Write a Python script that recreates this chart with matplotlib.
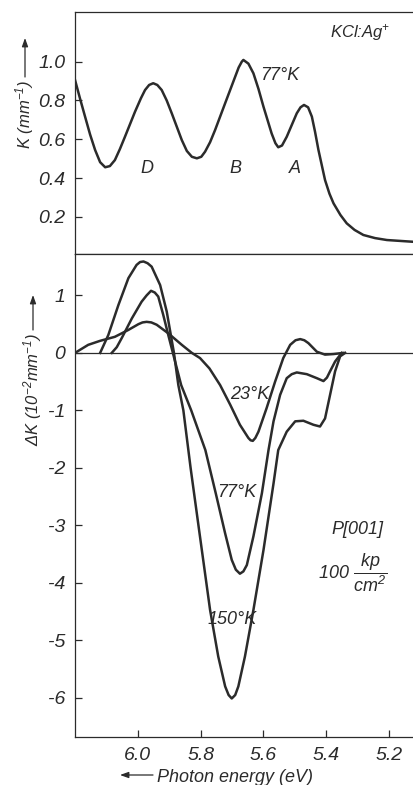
import numpy as np
import matplotlib.pyplot as plt

plt.rcParams['font.family'] = ['Liberation Sans', 'DejaVu Sans']
plt.rcParams['font.style'] = 'italic'
plt.rcParams['axes.unicode_minus'] = False
plt.rcParams['mathtext.fontset'] = 'custom'
plt.rcParams['mathtext.rm'] = 'Liberation Sans:italic'
plt.rcParams['mathtext.it'] = 'Liberation Sans:italic'

# absorption K at 77 K (top panel)
e_abs = [6.200, 6.184, 6.168, 6.152, 6.136, 6.120, 6.104, 6.089, 6.073, 6.057,
         6.041, 6.009, 5.990, 5.977, 5.964, 5.951, 5.938, 5.924, 5.908, 5.892,
         5.860, 5.844, 5.828, 5.812, 5.798, 5.786, 5.770, 5.754, 5.722, 5.690,
         5.679, 5.669, 5.664, 5.648, 5.632, 5.616, 5.600, 5.574, 5.562, 5.553,
         5.541, 5.526, 5.494, 5.482, 5.471, 5.458, 5.446, 5.436, 5.425, 5.404,
         5.390, 5.377, 5.355, 5.335, 5.310, 5.282, 5.245, 5.207, 5.124]
k_abs = [0.906, 0.810, 0.717, 0.625, 0.545, 0.482, 0.456, 0.462, 0.493, 0.550,
         0.613, 0.742, 0.812, 0.854, 0.880, 0.889, 0.880, 0.854, 0.800, 0.734,
         0.596, 0.540, 0.510, 0.502, 0.510, 0.536, 0.585, 0.648, 0.786, 0.923,
         0.970, 1.000, 1.009, 0.990, 0.940, 0.860, 0.768, 0.630, 0.580, 0.559,
         0.568, 0.613, 0.734, 0.765, 0.777, 0.765, 0.717, 0.640, 0.545, 0.390,
         0.320, 0.270, 0.210, 0.167, 0.133, 0.107, 0.091, 0.081, 0.072]

# stress induced change dK (10^-2 mm^-1)
e_23 = [6.200, 6.158, 6.120, 6.073, 6.030, 5.998, 5.985, 5.972, 5.957, 5.940,
        5.903, 5.860, 5.828, 5.802, 5.772, 5.738, 5.706, 5.675, 5.648, 5.641,
        5.634, 5.626, 5.616, 5.590, 5.563, 5.537, 5.515, 5.498, 5.483, 5.470,
        5.457, 5.430, 5.404, 5.377, 5.346]
dk_23 = [0.00, 0.14, 0.21, 0.28, 0.40, 0.50, 0.53, 0.54, 0.53, 0.49,
         0.34, 0.14, 0.00, -0.09, -0.27, -0.56, -0.90, -1.25, -1.48, -1.52,
         -1.53, -1.48, -1.37, -0.96, -0.50, -0.09, 0.14, 0.22, 0.24, 0.22,
         0.17, 0.02, -0.03, -0.02, 0.00]

e_77 = [6.083, 6.067, 6.051, 6.019, 5.988, 5.972, 5.958, 5.946, 5.935, 5.919,
        5.903, 5.887, 5.862, 5.830, 5.785, 5.752, 5.722, 5.701, 5.688,
        5.675, 5.664, 5.653, 5.632, 5.605, 5.584, 5.568, 5.547, 5.526, 5.510,
        5.494, 5.462, 5.430, 5.409, 5.398, 5.388, 5.372, 5.351]
dk_77 = [0.00, 0.10, 0.26, 0.60, 0.89, 1.00, 1.08, 1.05, 0.98, 0.66,
         0.31, -0.03, -0.56, -1.00, -1.69, -2.44, -3.14, -3.60, -3.77,
         -3.84, -3.80, -3.69, -3.19, -2.44, -1.69, -1.19, -0.73, -0.44, -0.37,
         -0.34, -0.37, -0.44, -0.49, -0.43, -0.32, -0.15, 0.00]

e_150 = [6.120, 6.094, 6.062, 6.030, 6.004, 5.993, 5.982, 5.969, 5.956, 5.929,
         5.908, 5.885, 5.871, 5.855, 5.832, 5.807, 5.770, 5.744, 5.722, 5.711,
         5.701, 5.690, 5.680, 5.659, 5.632, 5.600, 5.568, 5.553, 5.526, 5.499,
         5.473, 5.441, 5.420, 5.404, 5.388, 5.372, 5.356, 5.340]
dk_150 = [0.00, 0.31, 0.83, 1.30, 1.53, 1.58, 1.59, 1.56, 1.50, 1.18,
          0.72, 0.00, -0.56, -1.00, -2.00, -3.00, -4.47, -5.28, -5.80, -5.95,
          -6.01, -5.95, -5.80, -5.28, -4.47, -3.43, -2.27, -1.69, -1.37, -1.19,
          -1.18, -1.25, -1.28, -1.14, -0.73, -0.32, -0.06, 0.00]

k_ticks = [0.2, 0.4, 0.6, 0.8, 1.0]
dk_ticks = [1, 0, -1, -2, -3, -4, -5, -6]
e_ticks = [6.0, 5.8, 5.6, 5.4, 5.2]

ink = '#2b2b2b'
W, H = 413, 785
fig = plt.figure(figsize=(W / 100, H / 100), dpi=100)

ax1 = fig.add_axes([75 / W, 1 - 254 / H, 1 - 75 / W, 242 / H])
ax2 = fig.add_axes([75 / W, 1 - 737 / H, 1 - 75 / W, 483 / H])

for ax in (ax1, ax2):
    ax.set_xlim(6.2, 5.124)
    ax.spines['right'].set_visible(False)
    for s in ('left', 'top', 'bottom'):
        ax.spines[s].set_linewidth(0.9)
        ax.spines[s].set_color(ink)
    ax.tick_params(direction='in', length=5, width=0.9, colors=ink,
                   labelsize=14, pad=7)

# top panel
ax1.plot(e_abs, k_abs, color=ink, lw=1.8)
ax1.set_ylim(0.009, 1.256)
ax1.set_yticks(k_ticks)
ax1.set_yticklabels(['%.1f' % v for v in k_ticks])
ax1.set_xticks([])
ax1.text(5.292, 1.148, 'KCl:Ag$^{+}$', fontsize=12, ha='center', va='center', color=ink)
ax1.text(5.547, 0.93, '77°K', fontsize=13, ha='center', va='center', color=ink)
for lab, ex in zip(['D', 'B', 'A'], [5.971, 5.69, 5.499]):
    ax1.text(ex, 0.452, lab, fontsize=13, ha='center', va='center', color=ink)

# bottom panel
ax2.axhline(0, color=ink, lw=0.9)
ax2.plot(e_23, dk_23, color=ink, lw=1.8)
ax2.plot(e_77, dk_77, color=ink, lw=1.8)
ax2.plot(e_150, dk_150, color=ink, lw=1.8)
ax2.set_ylim(-6.68, 1.72)
ax2.set_yticks(dk_ticks)
ax2.set_yticklabels([str(v) for v in dk_ticks])
ax2.set_xticks(e_ticks)
ax2.set_xticklabels(['%.1f' % v for v in e_ticks])
ax2.text(5.643, -0.73, '23°K', fontsize=13, ha='center', va='center', color=ink)
ax2.text(5.684, -2.43, '77°K', fontsize=13, ha='center', va='center', color=ink)
ax2.text(5.70, -4.64, '150°K', fontsize=13, ha='center', va='center', color=ink)
ax2.text(5.302, -3.08, 'P[001]', fontsize=13, ha='center', va='center', color=ink)
ax2.text(5.315, -3.83, r'100 $\dfrac{kp}{cm^2}$', fontsize=13, ha='center',
         va='center', color=ink)

# axis labels, each with a long arrow
arrow = dict(arrowstyle='-|>,head_length=0.5,head_width=0.18', lw=0.9, color=ink,
             shrinkA=0, shrinkB=0)
fig.text(25 / W, 1 - 80 / H, 'K (mm$^{-1}$)', rotation=90, fontsize=12,
         ha='center', va='top', color=ink)
ax1.annotate('', xy=(25, H - 38), xytext=(25, H - 77), xycoords='figure pixels',
             textcoords='figure pixels', arrowprops=arrow)
fig.text(33 / W, 1 - 333 / H, 'ΔK (10$^{-2}$mm$^{-1}$)', rotation=90,
         fontsize=12, ha='center', va='top', color=ink)
ax2.annotate('', xy=(33, H - 295), xytext=(33, H - 330), xycoords='figure pixels',
             textcoords='figure pixels', arrowprops=arrow)
fig.text(157 / W, 1 - 777 / H, 'Photon energy (eV)', fontsize=13,
         ha='left', va='center', color=ink)
ax2.annotate('', xy=(120, H - 775), xytext=(153, H - 775), xycoords='figure pixels',
             textcoords='figure pixels', arrowprops=arrow)

fig.savefig('out.png', dpi=100)
